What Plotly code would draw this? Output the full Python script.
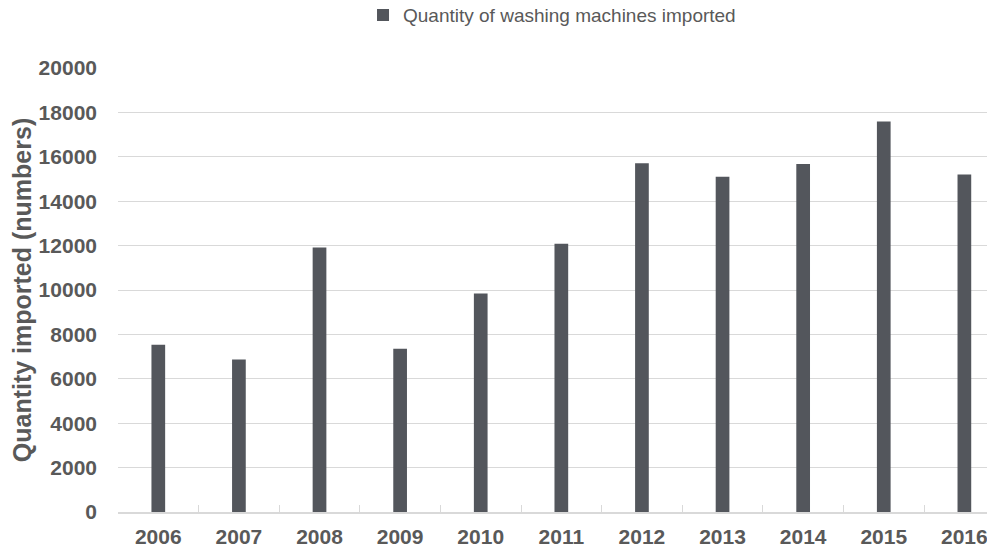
import plotly.graph_objects as go

years = ["2006", "2007", "2008", "2009", "2010", "2011", "2012", "2013", "2014", "2015", "2016"]
quantities = [7530, 6870, 11910, 7350, 9840, 12080, 15710, 15100, 15680, 17590, 15200]
series_name = "Quantity of washing machines imported"
y_title = "Quantity imported (numbers)"
y_ticks = [0, 2000, 4000, 6000, 8000, 10000, 12000, 14000, 16000, 18000, 20000]

FONT = "Arial, 'Liberation Sans', sans-serif"
GREY = "#595959"

fig = go.Figure()
fig.add_trace(go.Bar(
    x=years, y=quantities, name=series_name,
    marker=dict(color="#53565c", line=dict(width=0)),
    width=0.17, showlegend=True,
))

fig.update_layout(
    width=995, height=550,
    margin=dict(l=110, r=8, t=60, b=46, autoexpand=False),
    paper_bgcolor="white", plot_bgcolor="white",
    font=dict(family=FONT, color=GREY),
    showlegend=True,
    legend=dict(
        orientation="h", x=0.3568, xanchor="left", xref="container",
        y=0.987, yref="container", yanchor="middle",
        font=dict(size=19, color=GREY), itemwidth=30,
        bgcolor="rgba(0,0,0,0)",
    ),
    bargap=0.8,
)
fig.update_xaxes(
    type="category", range=[-0.5, 10.38], automargin=False,
    showline=True, linecolor="#d9d9d9", linewidth=1.5,
    ticks="inside", tickson="boundaries", ticklen=7, tickcolor="#d9d9d9",
    tickfont=dict(size=21, color=GREY, family=FONT, weight="bold"),
    ticklabelstandoff=5,
    showgrid=False, zeroline=False,
)
fig.update_yaxes(
    range=[0, 20000], tickvals=y_ticks, tickformat="d", automargin=False,
    showgrid=True, gridcolor="#d9d9d9", gridwidth=1,
    zeroline=False, showline=False,
    tickfont=dict(size=21, color=GREY, family=FONT, weight="bold"),
    ticklabelstandoff=20,
    title=dict(text=y_title, font=dict(size=25, color=GREY, family=FONT, weight="bold"), standoff=6),
)

fig.write_html("out.html")
